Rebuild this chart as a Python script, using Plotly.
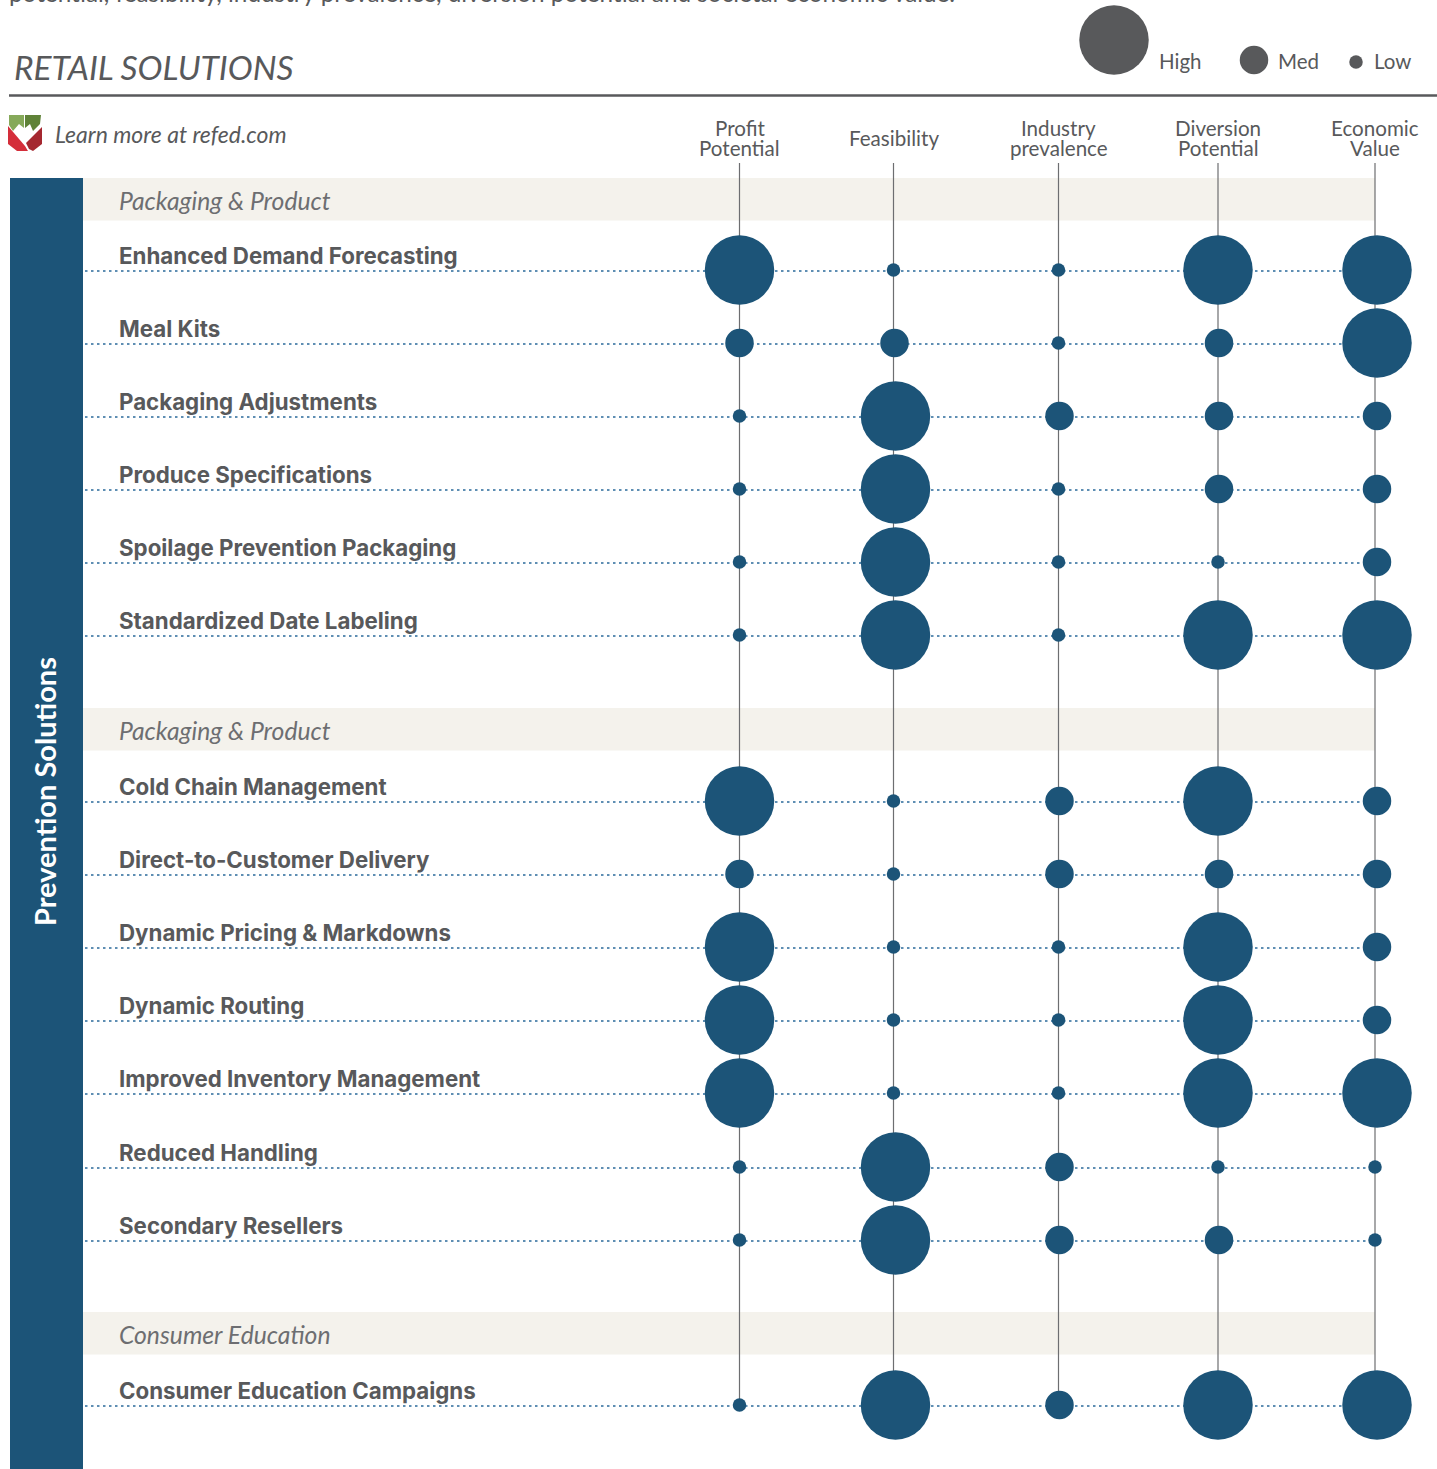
import plotly.graph_objects as go

# ---------- data ----------
columns = [["Profit", "Potential"], ["Feasibility"], ["Industry", "prevalence"], ["Diversion", "Potential"], ["Economic", "Value"]]
sections = ["Packaging & Product", "Packaging & Product", "Consumer Education"]
solutions = ["Enhanced Demand Forecasting", "Meal Kits", "Packaging Adjustments", "Produce Specifications",
             "Spoilage Prevention Packaging", "Standardized Date Labeling",
             "Cold Chain Management", "Direct-to-Customer Delivery", "Dynamic Pricing & Markdowns",
             "Dynamic Routing", "Improved Inventory Management", "Reduced Handling", "Secondary Resellers",
             "Consumer Education Campaigns"]
profit =     ["High", "Med", "Low", "Low", "Low", "Low", "High", "Med", "High", "High", "High", "Low", "Low", "Low"]
feasible =   ["Low", "Med", "High", "High", "High", "High", "Low", "Low", "Low", "Low", "Low", "High", "High", "High"]
industry =   ["Low", "Low", "Med", "Low", "Low", "Low", "Med", "Med", "Low", "Low", "Low", "Med", "Med", "Med"]
diversion =  ["High", "Med", "Med", "Med", "Low", "High", "High", "Med", "High", "High", "High", "Low", "Med", "High"]
economic =   ["High", "High", "Med", "Med", "Med", "High", "Med", "Med", "Med", "Med", "High", "Low", "Low", "High"]
legend_levels = ["High", "Med", "Low"]

# ---------- layout constants ----------
W, H = 1437, 1469
FONT = "Lato, 'Open Sans', sans-serif"
BOLD = "Inter, Lato, sans-serif"
GREY = "#58595b"
BLUE = "#1c5478"
BAND = "#f4f2ec"
col_x = [739.5, 893.5, 1058.5, 1218, 1375]
row_y = [270, 343, 416, 489, 562, 635, 801, 874, 947, 1020, 1093, 1167, 1240, 1405]
band_y = [(178, 220.5), (708, 750.5), (1312, 1354.5)]
diam = {"High": 69.5, "Med": 28.5, "Low": 13.5}
shift = {"High": [0, 2, 0, 0, 2], "Med": [0, 1, 1, 1, 2], "Low": [0, 0, 0, 0, 0]}

fig = go.Figure()

# dotted row guides
for y in row_y:
    fig.add_trace(go.Scatter(x=[85, 1375], y=[y + 1, y + 1], mode="lines", hoverinfo="skip",
                             line=dict(color="#2a6a9a", width=1.5, dash="2.5px,3.5px")))
# vertical column rules
for x in col_x:
    fig.add_trace(go.Scatter(x=[x, x], y=[163, row_y[-1]], mode="lines", hoverinfo="skip",
                             line=dict(color="#6d6e71", width=1.2)))
# bubbles
for i, series in enumerate([profit, feasible, industry, diversion, economic]):
    fig.add_trace(go.Scatter(
        x=[col_x[i] + shift[v][i] for v in series], y=row_y, mode="markers", text=solutions,
        marker=dict(size=[diam[v] for v in series], color=BLUE, line=dict(width=0), opacity=1),
        hovertemplate="%{text}<extra></extra>"))
# legend bubbles
fig.add_trace(go.Scatter(x=[1114, 1254, 1356], y=[40, 60, 62], mode="markers", text=legend_levels,
                         marker=dict(size=[diam[v] for v in legend_levels], color=GREY, line=dict(width=0), opacity=1),
                         hoverinfo="skip"))

shapes = [
    dict(type="rect", x0=83, x1=1375, y0=a, y1=b, fillcolor=BAND, line_width=0, layer="below") for a, b in band_y
] + [
    dict(type="rect", x0=10, x1=83, y0=178, y1=1469, fillcolor=BLUE, line_width=0, layer="below"),
    dict(type="line", x0=9, x1=1437, y0=95.5, y1=95.5, line=dict(color=GREY, width=2.6), layer="below"),
    # logo
    dict(type="path", path="M9,115 L24,115 L24,128 L19,124 L13,131 L9,125 Z", fillcolor="#86a95a", line_width=0),
    dict(type="path", path="M25,115 L41,115 L40,124 L33,131 L30,124 L25,128 Z", fillcolor="#5f8238", line_width=0),
    dict(type="path", path="M8,126 L25,146 L28,151 L17,151 L8,144 Z", fillcolor="#d42e3a", line_width=0),
    dict(type="path", path="M42,127 L42,144 L33,151 L29,149 L26,143 Z", fillcolor="#a52830", line_width=0),
]

def T(x, y, s, size=20, color=GREY, anchor="left", yanchor="middle", family=FONT, **kw):
    return dict(x=x, y=y, text=s, showarrow=False, xanchor=anchor, yanchor=yanchor, xref="x", yref="y",
                borderpad=0, font=dict(family=family, size=size, color=color),
                align="center" if anchor == "center" else "left", **kw)

top = T(8, 1 - 8 / H, "potential, feasibility, industry prevalence, diversion potential and societal economic value.",
        size=24.3, yanchor="bottom")
top["yref"] = "paper"
ann = [
    top,
    T(13, 67, "<i>RETAIL SOLUTIONS</i>", size=33.5),
    T(54, 134, "<i>Learn more at refed.com</i>", size=23),
    T(1158, 61, "High", size=20.5),
    T(1277, 61, "Med", size=20.5),
    T(1373, 61, "Low", size=20.5),
    T(44.5, 791.5, "<b>Prevention Solutions</b>", size=29, color="#ffffff", anchor="center", textangle=-90),
]
for (a, b), s in zip(band_y, sections):
    ann.append(T(117.5, (a + b) / 2 + 1, "<i>" + s + "</i>", size=24.7, color="#6d6e71"))
for y, s in zip(row_y, solutions):
    ann.append(T(117.5, y - 14.5, "<b>" + s + "</b>", size=22.3, family=BOLD))
for x, lines in zip(col_x, columns):
    ys = [127.5, 147.5] if len(lines) == 2 else [137.5]
    for yy, s in zip(ys, lines):
        ann.append(T(x, yy, s, size=20.6, anchor="center"))

fig.update_layout(
    width=W, height=H, margin=dict(l=0, r=0, t=0, b=0), autosize=False,
    paper_bgcolor="white", plot_bgcolor="white", showlegend=False,
    xaxis=dict(range=[0, W], visible=False, fixedrange=True),
    yaxis=dict(range=[H, 0], visible=False, fixedrange=True),
    shapes=shapes, annotations=ann,
)
fig.write_html("out.html", config=dict(displayModeBar=False),
               post_script="document.body.style.margin='0';document.documentElement.style.overflow='hidden';")
